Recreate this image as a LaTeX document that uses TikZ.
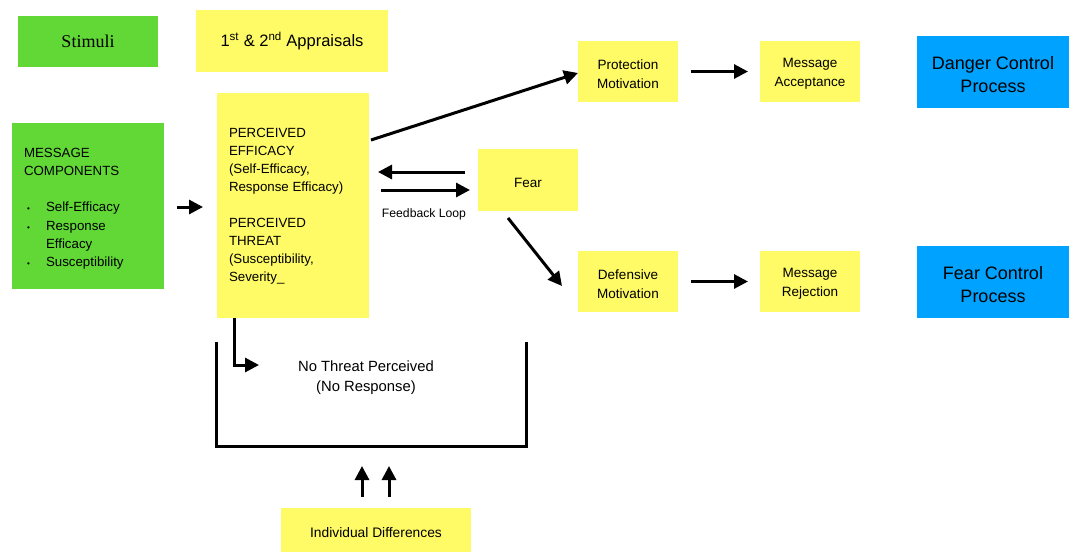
\documentclass[tikz,border=0pt]{standalone}
\usepackage{fontspec}
\setmainfont{Liberation Sans}
\newfontfamily\seriffont{Liberation Serif}
\usetikzlibrary{arrows.meta,calc}
\definecolor{kgreen}{HTML}{61D836}
\definecolor{kyellow}{HTML}{FFFB66}
\definecolor{kblue}{HTML}{00A2FF}
\newcommand\lowline{\rule[-0.7em]{0pt}{1.75em}}
\begin{document}
\begin{tikzpicture}[x=1pt,y=-1pt,
  base/.style={inner sep=0pt, outer sep=0pt, anchor=north west, align=center, font=\fontsize{13.5}{19}\selectfont},
  low/.style={execute at begin node={\rule{0pt}{1.06em}}},
  gbox/.style={base, fill=kgreen},
  ybox/.style={base, fill=kyellow},
  bbox/.style={base, fill=kblue, font=\fontsize{18}{23}\selectfont},
  small/.style={base, minimum width=100, minimum height=61},
  txt/.style={inner sep=0pt, outer sep=0pt, align=left, font=\fontsize{13.3}{18.2}\selectfont},
  arr/.style={line width=3pt, -{Triangle[length=14pt,width=14pt]}},
  ln/.style={line width=3pt}
]
\useasboundingbox (0,0) rectangle (1069,552);

% top labels
\node[gbox, minimum width=140, minimum height=51, font=\seriffont\fontsize{18}{21}\selectfont] (stim) at (18,16) {Stimuli};
\node[ybox, minimum width=192, minimum height=62, font=\fontsize{16.5}{20}\selectfont] (appr) at (196,10) {1\textsuperscript{st} \& 2\textsuperscript{nd} Appraisals};

% message components
\node[gbox, minimum width=152, minimum height=166] (mc) at (12,123) {};
\node[txt, anchor=north west] (mctext) at (24,148) {MESSAGE\\COMPONENTS\\[18.2pt]
\makebox[22pt][l]{\hspace{3pt}{\fontsize{8}{8}\selectfont\textbullet}}Self-Efficacy\\
\makebox[22pt][l]{\hspace{3pt}{\fontsize{8}{8}\selectfont\textbullet}}Response\\
\makebox[22pt][l]{}Efficacy\\
\makebox[22pt][l]{\hspace{3pt}{\fontsize{8}{8}\selectfont\textbullet}}Susceptibility};

% perceived box
\node[ybox, minimum width=152, minimum height=225] (perc) at (217,93) {};
\node[txt, anchor=north west] (perctext) at (229,128) {PERCEIVED\\EFFICACY\\(Self-Efficacy,\\Response Efficacy)\\[17pt]
PERCEIVED\\THREAT\\(Susceptibility,\\Severity\_};

% fear
\node[ybox, low, minimum width=100, minimum height=62] (fear) at (478,149) {Fear};
\node[inner sep=0pt, font=\fontsize{12.2}{14}\selectfont] (fb) at (424,214) {Feedback Loop};

% right column
\node[ybox, small] (prot) at (578,41) {\rule{0pt}{1.06em}Protection\\Motivation};
\node[ybox, small] (acc) at (760,41) {\rule{0pt}{1.06em}Message\\Acceptance};
\node[bbox, minimum width=152, minimum height=72] (dcp) at (917,36) {\rule{0pt}{1.06em}Danger Control\\Process};

\node[ybox, small] (def) at (578,251) {\rule{0pt}{1.06em}Defensive\\Motivation};
\node[ybox, small] (rej) at (760,251) {\rule{0pt}{1.06em}Message\\Rejection};
\node[bbox, minimum width=152, minimum height=72] (fcp) at (917,246) {\rule{0pt}{1.06em}Fear Control\\Process};

% no threat
\node[inner sep=0pt, align=center, font=\fontsize{14.8}{20}\selectfont] (nothreat) at (366,378) {No Threat Perceived\\(No Response)};

% individual differences
\node[ybox, low, minimum width=190, minimum height=44, font=\fontsize{13.8}{19}\selectfont] (indiv) at (281,508) {Individual Differences};

% bracket
\coordinate (bl) at (216,342);
\coordinate (br) at (526,342);
\draw[ln] (bl) -- (bl |- 0,446) -- (br |- 0,446) -- (br);

% arrows
\coordinate (ntarrow) at (259,365);
\draw[arr] ([xshift=13]mc.east |- 0,207) -- ([xshift=-14]perc.west |- 0,207);
\draw[arr] ($(perc.north east)+(2,47)$) -- ($(prot.south west)+(0,-29)$);
\draw[arr] ([xshift=-13]fear.west |- 0,172) -- ([xshift=9]perc.east |- 0,172);
\draw[arr] ([xshift=12]perc.east |- 0,190) -- ([xshift=-8]fear.west |- 0,190);
\draw[arr] ($(fear.south west)+(30,7)$) -- ($(def.north west)+(-16,35)$);
\draw[arr] ([xshift=13]prot.east) -- ([xshift=-12]acc.west);
\draw[arr] ([xshift=13]def.east) -- ([xshift=-12]rej.west);
\draw[arr] ($(perc.south west)+(17,0)$) |- (ntarrow);
\draw[arr] ([xshift=81]indiv.north west |- 0,497) -- ([xshift=81]indiv.north west |- 0,466);
\draw[arr] ([xshift=108]indiv.north west |- 0,497) -- ([xshift=108]indiv.north west |- 0,466);
\end{tikzpicture}
\end{document}
